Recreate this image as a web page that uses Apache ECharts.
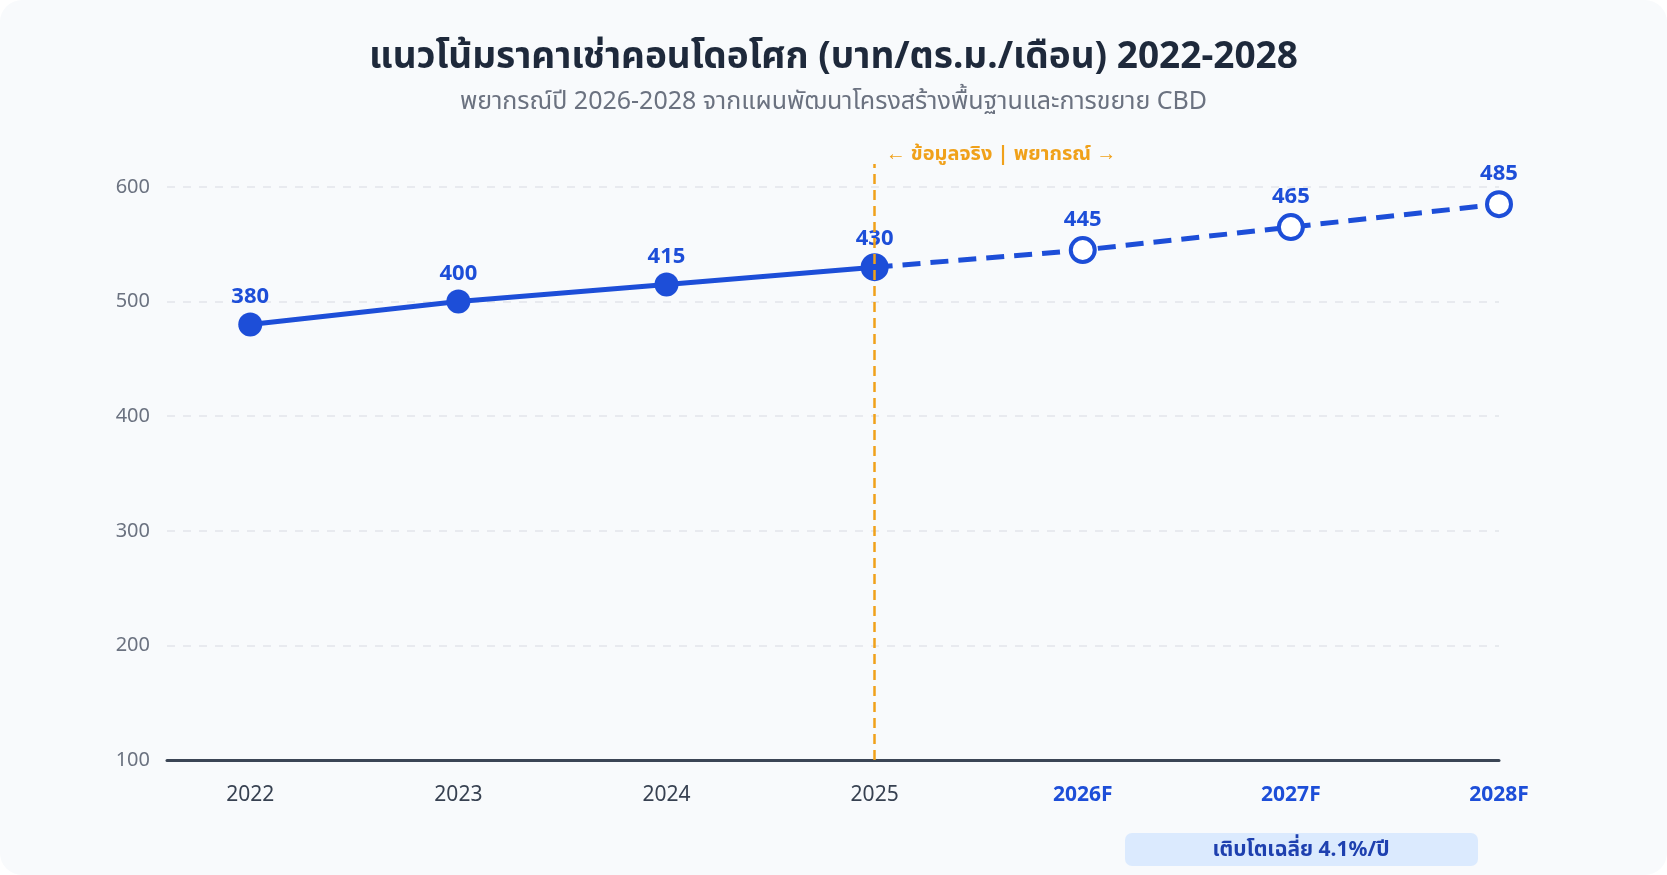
<!DOCTYPE html>
<html>
<head>
<meta charset="utf-8">
<script src="https://cdn.jsdelivr.net/npm/echarts@6/dist/echarts.min.js"></script>
<style>
    html, body {
        margin: 0;
        padding: 0;
        background: #ffffff;
    }
    #myChart {
        width: 1667px;
        height: 875px;
        background: #f8fafc;
        border-radius: 22px;
        overflow: hidden;
    }
</style>
</head>
<body>
<div id="myChart"></div>
<script>
// ปี (จริง + พยากรณ์)
const years = ['2022', '2023', '2024', '2025', '2026F', '2027F', '2028F']
const actualRent = [380, 400, 415, 430]
const forecastRent = [430, 445, 465, 485]
const forecastStart = 3
const yTicks = [100, 200, 300, 400, 500, 600]

const blue = '#1d4ed8'
const orange = '#f0a11a'
const fontFamily = '"Noto Sans", "Noto Sans Thai", sans-serif'

const actualData = actualRent.map((v, i) => [i, v])
const forecastData = forecastRent.map((v, i) => [i + forecastStart, v])

const myChart = echarts.init(document.getElementById('myChart'))

const option = {
    animation: false,
    textStyle: { fontFamily: fontFamily },
    title: {
        left: 'center',
        top: 34,
        text: 'แนวโน้มราคาเช่าคอนโดอโศก (บาท/ตร.ม./เดือน) 2022-2028',
        subtext: 'พยากรณ์ปี 2026-2028 จากแผนพัฒนาโครงสร้างพื้นฐานและการขยาย CBD',
        itemGap: 13,
        textStyle: {
            fontSize: 37,
            fontWeight: 'bold',
            color: '#1e293b',
            fontFamily: fontFamily
        },
        subtextStyle: {
            fontSize: 25,
            color: '#6b7280',
            fontFamily: fontFamily
        }
    },
    grid: [{
        left: 167,
        right: 168,
        top: 187,
        bottom: 115
    }, {
        // ช่วงของเส้นแบ่งข้อมูลจริง/พยากรณ์ (สูงกว่ากราฟเล็กน้อย)
        left: 167,
        right: 168,
        top: 164,
        bottom: 115
    }],
    xAxis: [{
        type: 'value',
        min: -0.4,
        max: 6,
        splitLine: { show: false },
        axisTick: { show: false },
        axisLine: {
            show: true,
            onZero: false,
            lineStyle: { color: '#3b4555', width: 3 }
        },
        axisLabel: {
            customValues: years.map((y, i) => i),
            margin: 25,
            formatter: function (value) {
                const name = years[Math.round(value)]
                return Math.round(value) >= forecastStart + 1 ? '{f|' + name + '}' : '{a|' + name + '}'
            },
            rich: {
                a: { fontSize: 21, color: '#374151', fontFamily: fontFamily },
                f: { fontSize: 21, color: blue, fontWeight: 'bold', fontFamily: fontFamily }
            }
        }
    }, {
        type: 'value',
        gridIndex: 1,
        min: -0.4,
        max: 6,
        show: false
    }],
    yAxis: [{
        type: 'value',
        min: 0,
        max: 500,
        interval: 100,
        axisLine: { show: false },
        axisTick: { show: false },
        splitLine: {
            show: true,
            lineStyle: { color: '#e2e5ea', type: [8, 8], width: 1.5 }
        },
        axisLabel: {
            margin: 17,
            fontSize: 20,
            color: '#6b7280',
            formatter: function (value) {
                return String(yTicks[Math.round(value / 100)])
            }
        }
    }, {
        type: 'value',
        gridIndex: 1,
        min: 0,
        max: 1,
        show: false
    }],
    graphic: [{
        type: 'group',
        right: 189,
        bottom: 9,
        children: [{
            type: 'rect',
            shape: { x: 0, y: 0, width: 353, height: 33, r: 7 },
            style: { fill: '#dbeafe' }
        }, {
            type: 'text',
            x: 176,
            y: 17,
            style: {
                text: 'เติบโตเฉลี่ย 4.1%/ปี',
                fill: '#1e40af',
                font: 'bold 21px ' + fontFamily,
                align: 'center',
                verticalAlign: 'middle'
            }
        }]
    }],
    series: [{
        name: 'ข้อมูลจริง',
        type: 'line',
        data: actualData,
        symbol: 'circle',
        symbolSize: 24,
        z: 3,
        lineStyle: { color: blue, width: 5 },
        itemStyle: { color: blue },
        label: {
            show: true,
            position: 'top',
            distance: 5,
            fontSize: 22,
            fontWeight: 'bold',
            color: blue
        }
    }, {
        name: 'พยากรณ์',
        type: 'line',
        data: forecastData,
        symbol: 'circle',
        symbolSize: 24,
        z: 2,
        lineStyle: { color: blue, width: 5, type: [18, 10] },
        itemStyle: { color: '#ffffff', borderColor: blue, borderWidth: 4 },
        label: {
            show: true,
            position: 'top',
            distance: 5,
            fontSize: 22,
            fontWeight: 'bold',
            color: blue,
            formatter: function (p) {
                return p.dataIndex === 0 ? '' : String(p.value[1])
            }
        }
    }, {
        name: 'เส้นแบ่ง',
        type: 'line',
        xAxisIndex: 1,
        yAxisIndex: 1,
        data: [],
        z: 5,
        markLine: {
            silent: true,
            symbol: ['none', 'none'],
            lineStyle: { color: orange, type: [10, 6], width: 2.5 },
            label: {
                show: true,
                position: 'end',
                formatter: '← ข้อมูลจริง | พยากรณ์ →',
                color: orange,
                fontSize: 20,
                fontWeight: 'bold',
                align: 'left',
                padding: [0, 0, 0, 11],
                distance: 0
            },
            data: [[
                { coord: [forecastStart, 0] },
                { coord: [forecastStart, 1] }
            ]]
        }
    }]
}

myChart.setOption(option)
</script>
</body>
</html>
